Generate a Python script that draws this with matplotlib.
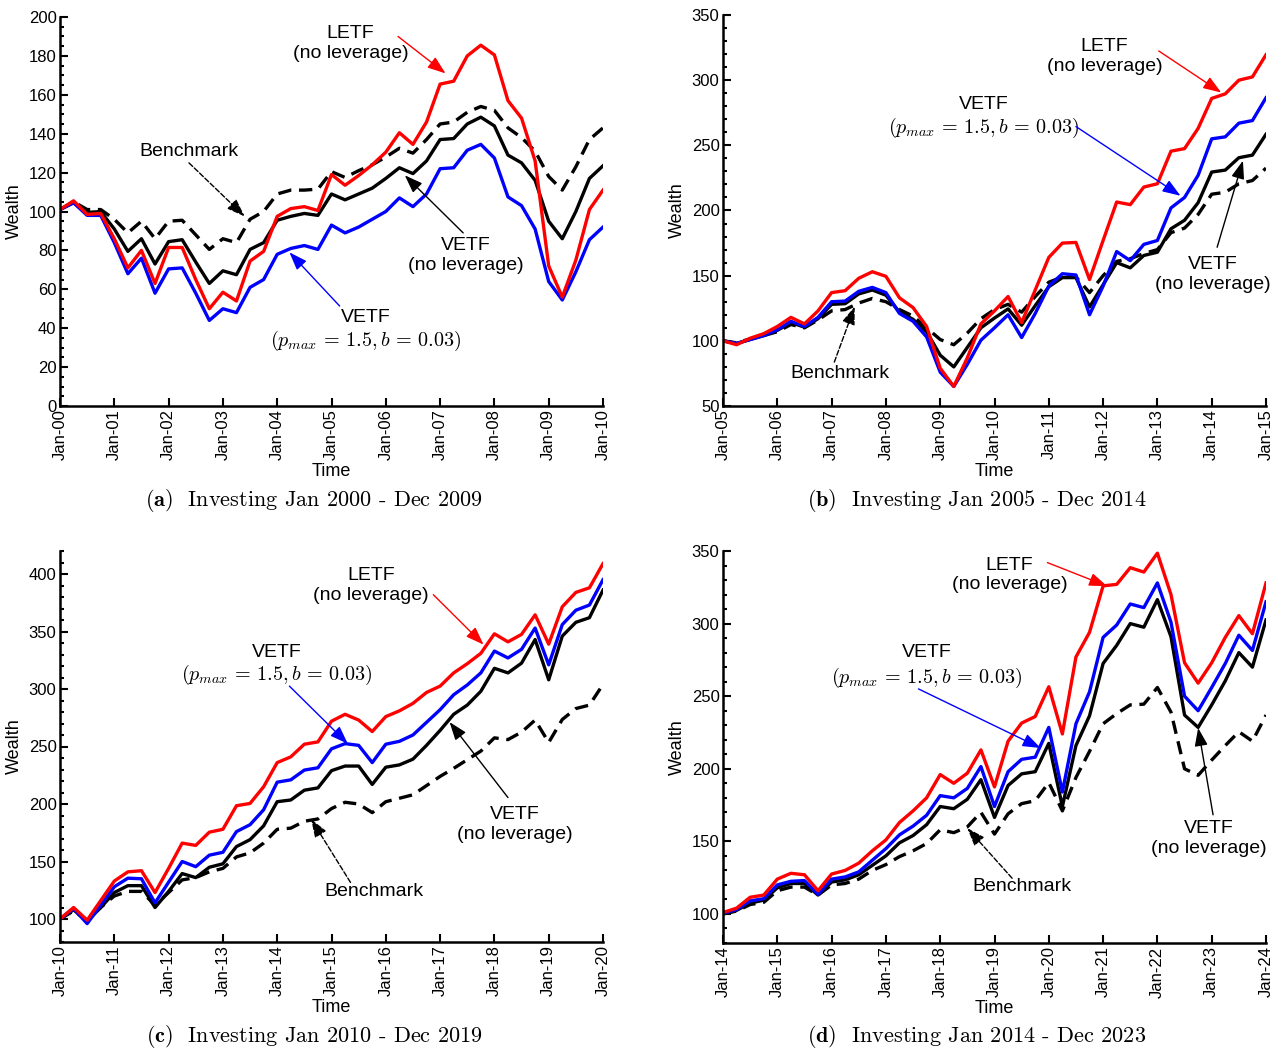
import matplotlib
matplotlib.use('Agg')
import matplotlib.pyplot as plt
from matplotlib.ticker import MultipleLocator
import numpy as np

plt.rcParams['font.family'] = ['Liberation Sans', 'DejaVu Sans']
plt.rcParams['mathtext.fontset'] = 'cm'

# quarterly wealth (start = 100)
# (a) Jan 2000 - Dec 2009
letf_a = [101, 105.5, 98.5, 99, 86, 71, 80, 63, 81.5, 81.5, 65, 50, 58.5, 54,
          74.5, 79.5, 97.5, 101.5, 102.5, 100.5, 119, 113.5, 118.5, 124, 130.5,
          140.5, 134.5, 146, 165.5, 167, 180, 185.5, 180.5, 157, 148, 126, 72,
          56, 75, 101, 111]
vetf_a = [101, 104.5, 98, 98, 84, 68, 76, 58, 70.5, 71, 58, 44, 50, 48, 61, 65,
          78, 81, 82.5, 80.5, 93, 89, 92, 96, 100, 107, 102.5, 109, 122, 122.5,
          131.5, 134.5, 127.5, 107.5, 103, 91, 64, 54.5, 69, 85.5, 92]
vnl_a = [101, 104.5, 99.5, 100, 91, 79.5, 86, 73, 84.5, 85.5, 74, 63, 69.5,
         67.5, 80.5, 84, 95.5, 97.5, 99, 98, 109, 106, 109, 112, 117, 122.5,
         119.5, 126, 137, 137.5, 145, 148.5, 144, 129, 125, 116, 95, 86, 100,
         117, 123.5]
bench_a = [101, 105, 101, 101, 96, 89, 95, 86, 95, 95.5, 88, 80.5, 86, 84, 96,
           100, 109, 111, 111, 111.5, 120.5, 117.5, 121, 124, 128, 132.5, 130,
           137, 145, 146, 151, 154, 152, 143, 138, 131, 118, 111, 123, 137, 143]
ticks_a = ['Jan-00', 'Jan-01', 'Jan-02', 'Jan-03', 'Jan-04', 'Jan-05',
           'Jan-06', 'Jan-07', 'Jan-08', 'Jan-09', 'Jan-10']

# (b) Jan 2005 - Dec 2014
letf_b = [100, 97, 102, 105.5, 111, 118, 113, 123, 137, 138.5, 148, 153, 149.5,
          133, 125.5, 111, 79, 65, 87, 113, 123, 134, 114, 139, 164, 175, 175.5,
          147, 177, 206.5, 204.5, 218, 220.5, 245.5, 247.5, 263, 286, 289.5,
          300, 302.5, 319.5]
vetf_b = [100, 98, 101, 104, 108.5, 115, 111, 118, 130, 130.5, 138, 141, 137,
          121, 115, 103, 76, 65, 82, 100.5, 110, 120, 102.5, 121, 142, 151.5,
          150.5, 120, 142, 168.5, 161.5, 174, 177, 202, 210, 227, 255, 256.5,
          267, 269, 286.5]
vnl_b = [100, 98, 101, 104, 108, 114, 110.5, 117, 128, 128.5, 136, 139, 135,
         122, 116.5, 107, 89, 80, 95, 110, 117.5, 124.5, 112, 127, 141.5, 148.5,
         148.5, 126, 143, 160, 156, 165.5, 168, 186, 192.5, 206, 229.5, 231,
         240.5, 242.5, 258.5]
bench_b = [100, 98.5, 101.5, 104, 107, 112.5, 110, 116, 123, 124, 129, 132.5,
           130, 124, 119, 110, 101, 97, 106, 117, 124, 128, 122, 134, 145, 149,
           149, 137, 150, 161, 163, 167, 170, 183, 186.5, 197, 212.5, 214,
           220.5, 223, 232.5]
ticks_b = ['Jan-05', 'Jan-06', 'Jan-07', 'Jan-08', 'Jan-09', 'Jan-10',
           'Jan-11', 'Jan-12', 'Jan-13', 'Jan-14', 'Jan-15']

# (c) Jan 2010 - Dec 2019
letf_c = [100, 110, 99, 116, 133, 141, 142, 123, 144, 166, 164, 175.5, 178,
          198.5, 200.5, 215, 236, 241, 252, 254, 272, 278, 273, 263, 276, 281,
          287.5, 297, 302.5, 314, 322, 331, 348, 341, 347.5, 364.5, 339, 371.5,
          384, 388, 409]
vetf_c = [100, 109, 96, 112, 128, 135.5, 135, 114, 132, 150, 145.5, 155.5, 158,
          176, 182, 195, 219, 221, 229.5, 231.5, 248, 252.5, 251, 236, 252,
          254.5, 260, 271, 282, 295, 303.5, 314, 333, 327, 334.5, 353, 321, 356,
          368.5, 373, 395]
vnl_c = [100, 108, 98, 110, 123, 129, 129, 110, 124, 139.5, 136, 145, 148, 163,
         169, 181, 202, 203.5, 212, 214, 229, 233, 233, 217, 232, 234, 239, 251,
         264, 278, 286, 298, 318, 314, 322.5, 343, 308, 346, 358, 362, 386]
bench_c = [100, 107, 99, 110, 120, 124, 124, 112, 123, 134, 136, 141, 144, 154,
           157.5, 166, 178, 179, 185, 187, 196, 201.5, 200, 192.5, 202, 205,
           208, 216, 224, 231, 238.5, 246, 257.5, 256, 262.5, 273, 253.5, 273.5,
           283, 286, 304]
ticks_c = ['Jan-10', 'Jan-11', 'Jan-12', 'Jan-13', 'Jan-14', 'Jan-15',
           'Jan-16', 'Jan-17', 'Jan-18', 'Jan-19', 'Jan-20']

# (d) Jan 2014 - Dec 2023
letf_d = [101, 104, 111.5, 113, 124, 128, 127, 116, 127.5, 130, 135, 143.5,
          151, 163, 171, 180, 196, 190, 197, 213, 187.5, 219, 231.5, 236, 256.5,
          224, 277, 294, 326, 327, 338.5, 335.5, 348.5, 320, 273, 259, 273,
          290.5, 305.5, 293, 328]
vetf_d = [100.5, 103, 109, 110.5, 120, 122.5, 123, 113.5, 124, 125.5, 129, 137,
          145, 154.5, 160.5, 168, 181.5, 180, 186.5, 201.5, 174, 198, 206.5,
          208, 228.5, 184, 231, 253, 290.5, 299, 313.5, 311, 328, 301, 250, 240,
          256, 272.5, 292, 281.5, 315]
vnl_d = [100, 102.5, 107.5, 109.5, 118, 121, 121, 113, 122, 123.5, 127, 133.5,
         140, 149, 154, 161.5, 174, 172.5, 179, 192.5, 166.5, 188.5, 196.5, 198,
         217.5, 174, 216, 236.5, 272.5, 285, 300, 297.5, 316.5, 291, 237, 228.5,
         244, 260.5, 280, 270, 302.5]
bench_d = [100, 102, 106.5, 108, 116, 118.5, 118.5, 113, 120, 121, 124, 130,
           134, 139.5, 143.5, 148.5, 158, 156, 160, 170, 155, 169, 176, 178,
           190.5, 171, 194, 212, 231, 238, 244, 244.5, 256, 239, 200, 195.5, 206,
           216, 225.5, 219, 237]
ticks_d = ['Jan-14', 'Jan-15', 'Jan-16', 'Jan-17', 'Jan-18', 'Jan-19',
           'Jan-20', 'Jan-21', 'Jan-22', 'Jan-23', 'Jan-24']

captions = [r'$\mathbf{(a)}$  Investing Jan 2000 - Dec 2009',
            r'$\mathbf{(b)}$  Investing Jan 2005 - Dec 2014',
            r'$\mathbf{(c)}$  Investing Jan 2010 - Dec 2019',
            r'$\mathbf{(d)}$  Investing Jan 2014 - Dec 2023']

pmax_txt = r'$(p_{max}\,=\,1.5, b\,=\,0.03)$'
tfs = 14
lw = 2.4


def draw_panel(ax, letf, vetf, vnl, bench, ticklabels, ylim, ymaj, ymin):
    q = np.arange(len(letf))
    ax.plot(q, bench, color='k', lw=lw, dashes=(4, 2.3))
    ax.plot(q, vnl, color='k', lw=lw)
    ax.plot(q, vetf, color='b', lw=lw)
    ax.plot(q, letf, color='r', lw=lw)

    ax.set_xlim(0, 40)
    ax.set_xticks(np.arange(0, 41, 4))
    ax.set_xticklabels(ticklabels, rotation=90)
    ax.set_ylim(*ylim)
    ax.yaxis.set_major_locator(MultipleLocator(ymaj))
    ax.yaxis.set_minor_locator(MultipleLocator(ymin))
    for s in ('top', 'right'):
        ax.spines[s].set_visible(False)
    for s in ('left', 'bottom'):
        ax.spines[s].set_linewidth(1.8)
    ax.tick_params(which='major', direction='in', length=6, width=1.5,
                   labelsize=12, pad=2.5)
    ax.tick_params(which='minor', direction='in', length=3, width=1.5)
    ax.set_xlabel('Time', fontsize=13, labelpad=2)
    ax.set_ylabel('Wealth', fontsize=13, labelpad=4)


def arrow(ax, frm, to, color, ls='-'):
    ax.annotate('', xy=to, xytext=frm,
                arrowprops=dict(arrowstyle='-|>,head_length=0.55,head_width=0.2',
                                color=color, lw=1, ls=ls, shrinkA=0, shrinkB=0,
                                mutation_scale=20))


def label(ax, x, y, s):
    ax.text(x, y, s, ha='center', va='center', fontsize=tfs)


def pmax_label(ax, x, y1, y2):
    ax.text(x, y1, 'VETF', ha='center', va='center', fontsize=tfs)
    ax.text(x, y2, pmax_txt, ha='center', va='center', fontsize=14.5)


fig = plt.figure(figsize=(12.84, 10.52), dpi=100)
W, H = 1284., 1052.
ax_a = fig.add_axes([60 / W, 1 - 406 / H, 543 / W, 389 / H])
ax_b = fig.add_axes([723 / W, 1 - 406 / H, 543 / W, 391 / H])
ax_c = fig.add_axes([60 / W, 1 - 942 / H, 543 / W, 391 / H])
ax_d = fig.add_axes([723 / W, 1 - 943 / H, 543 / W, 392 / H])

draw_panel(ax_a, letf_a, vetf_a, vnl_a, bench_a, ticks_a, (0, 200), 20, 5)
draw_panel(ax_b, letf_b, vetf_b, vnl_b, bench_b, ticks_b, (50, 350), 50, 10)
draw_panel(ax_c, letf_c, vetf_c, vnl_c, bench_c, ticks_c, (80, 420), 50, 10)
draw_panel(ax_d, letf_d, vetf_d, vnl_d, bench_d, ticks_d, (80, 350), 50, 10)

# (a)
label(ax_a, 21.4, 186.5, 'LETF\n(no leverage)')
arrow(ax_a, (24.9, 190), (28.4, 171), 'r')
label(ax_a, 9.5, 131, 'Benchmark')
arrow(ax_a, (9.5, 125), (13.6, 97.5), 'k', '--')
label(ax_a, 29.9, 77.5, 'VETF\n(no leverage)')
arrow(ax_a, (29.7, 89), (25.4, 118.6), 'k')
pmax_label(ax_a, 22.5, 45.5, 33.2)
arrow(ax_a, (20.6, 51.4), (16.9, 79), 'b')

# (b)
label(ax_b, 28.1, 318, 'LETF\n(no leverage)')
arrow(ax_b, (32.1, 322.4), (36.7, 290.5), 'r')
pmax_label(ax_b, 19.2, 281, 263.4)
arrow(ax_b, (26.0, 264.4), (33.7, 211.3), 'b')
label(ax_b, 36.1, 151, 'VETF\n(no leverage)')
arrow(ax_b, (36.4, 171.8), (38.3, 238.2), 'k')
label(ax_b, 8.6, 74.6, 'Benchmark')
arrow(ax_b, (8.2, 83.7), (9.7, 126.3), 'k', '--')

# (c)
label(ax_c, 22.9, 390, 'LETF\n(no leverage)')
arrow(ax_c, (27.5, 382), (31.2, 338.6), 'r')
pmax_label(ax_c, 16.0, 332, 312)
arrow(ax_c, (16.9, 302.5), (21.2, 252.4), 'b')
label(ax_c, 33.5, 182, 'VETF\n(no leverage)')
arrow(ax_c, (33.0, 205.6), (28.7, 271.2), 'k')
label(ax_c, 23.1, 123.5, 'Benchmark')
arrow(ax_c, (21.4, 131.8), (18.5, 186.8), 'k', '--')

# (d)
label(ax_d, 21.1, 333.5, 'LETF\n(no leverage)')
arrow(ax_d, (23.9, 342), (28.3, 325.8), 'r')
pmax_label(ax_d, 15.0, 280, 262.5)
arrow(ax_d, (14.4, 255), (23.4, 214.3), 'b')
label(ax_d, 35.8, 152, 'VETF\n(no leverage)')
arrow(ax_d, (36.1, 168.3), (35.0, 228.1), 'k')
label(ax_d, 22.0, 118.6, 'Benchmark')
arrow(ax_d, (21.3, 124.6), (18.0, 159.1), 'k', '--')

for (cx, cy), cap in zip([(314, 500), (977, 500), (314, 1037), (977, 1037)],
                         captions):
    fig.text(cx / W, 1 - cy / H, cap, ha='center', va='center',
             fontsize=16, family='cmr10')

fig.savefig('out.png', dpi=100)
plt.close()
